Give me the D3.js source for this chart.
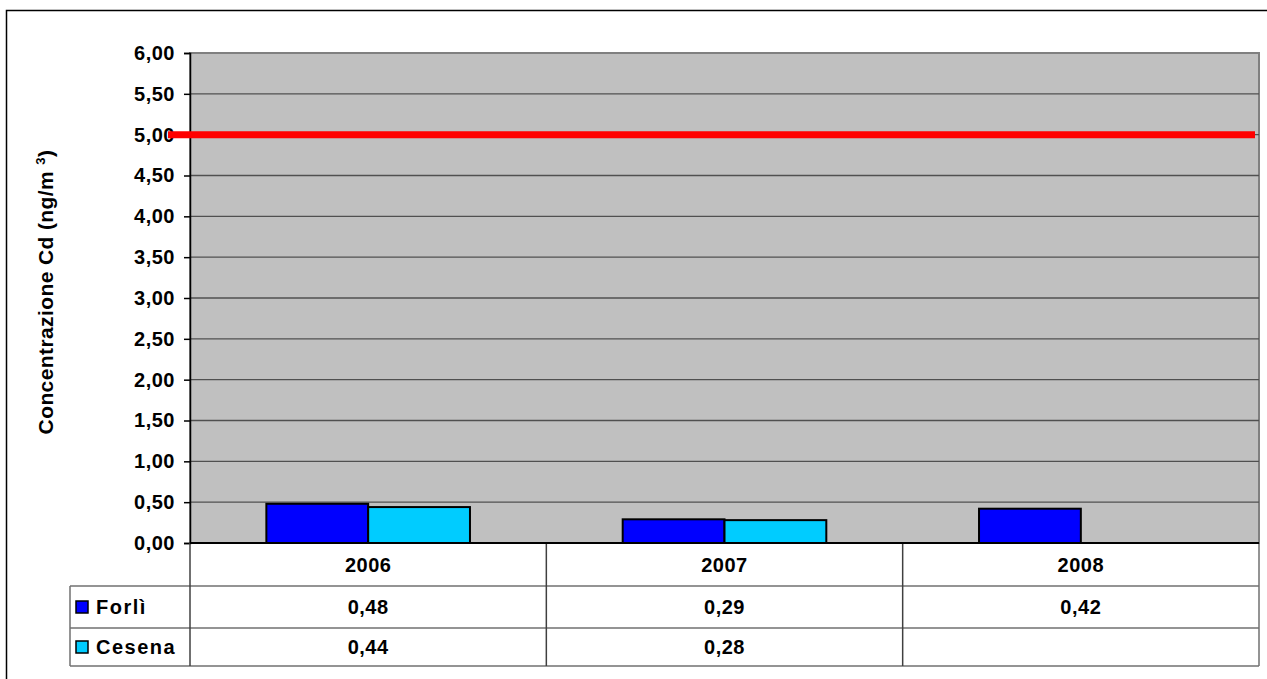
<!DOCTYPE html>
<html>
<head>
<meta charset="utf-8">
<script src="https://cdn.jsdelivr.net/npm/d3@7"></script>
<style>
  body { margin: 0; background: #fff; }
  text { font-family: "Liberation Sans", Arial, sans-serif; font-weight: bold; fill: #000; }
</style>
</head>
<body>
<script>
// chart data
var years = ["2006", "2007", "2008"];
var seriesNames = ["Forlì", "Cesena"];
var forli = [0.48, 0.29, 0.42];
var cesena = [0.44, 0.28, null];
var limitValue = 5.0;
var yTicks = [0, 0.5, 1, 1.5, 2, 2.5, 3, 3.5, 4, 4.5, 5, 5.5, 6];
var colors = ["#0000ff", "#00ccff"];

var width = 1267, height = 679;
var svg = d3.select("body").append("svg").attr("width", width).attr("height", height);

// outer frame
svg.append("rect").attr("x", 6.5).attr("y", 10.5).attr("width", 1300).attr("height", 700)
  .attr("fill", "none").attr("stroke", "#000").attr("stroke-width", 1.5);

var plotLeft = 190, plotRight = 1259, plotTop = 53, plotBottom = 543;
var fontSize = "20px";

var x = d3.scaleBand().domain(years).range([plotLeft, plotRight]);
// excel gap width 150%: two bars fill 2/3.5 of each band, centered
var bw = x.bandwidth();
var x1 = d3.scaleBand().domain(seriesNames).range([bw * 0.75 / 3.5, bw * (1 - 0.75 / 3.5)]);

var y = d3.scaleLinear().domain([0, 6]).range([plotBottom, plotTop]);

// plot area
svg.append("rect").attr("x", plotLeft).attr("y", plotTop).attr("width", plotRight - plotLeft).attr("height", plotBottom - plotTop)
  .attr("fill", "#c0c0c0").attr("stroke", "#808080").attr("stroke-width", 2);

// gridlines
svg.append("g").selectAll("line").data(yTicks.filter(function(d) { return d > 0 && d < 6; }))
  .enter().append("line")
  .attr("x1", plotLeft).attr("x2", plotRight)
  .attr("y1", function(d) { return y(d); }).attr("y2", function(d) { return y(d); })
  .attr("stroke", "#505050").attr("stroke-width", 1.3);

// y axis
var yAxis = d3.axisLeft(y).tickValues(yTicks).tickSize(6).tickPadding(9)
  .tickFormat(function(d) { return d3.format(".2f")(d).replace(".", ","); });
var gy = svg.append("g").attr("transform", "translate(" + plotLeft + ",0)").call(yAxis);
gy.select(".domain").attr("stroke", "#000").attr("stroke-width", 1.5);
gy.selectAll(".tick line").attr("stroke", "#000").attr("stroke-width", 1.5);
gy.selectAll(".tick text").attr("font-size", fontSize).attr("font-family", "Liberation Sans, Arial, sans-serif")
  .attr("font-weight", "bold").attr("fill", "#000").attr("letter-spacing", "0.5px");

// bars
var series = [forli, cesena];
series.forEach(function(vals, si) {
  svg.append("g").selectAll("rect").data(years.map(function(yr, i) { return { year: yr, v: vals[i] }; })
    .filter(function(d) { return d.v != null; }))
    .enter().append("rect")
    .attr("x", function(d) { return x(d.year) + x1(seriesNames[si]); })
    .attr("y", function(d) { return y(d.v); })
    .attr("width", x1.bandwidth())
    .attr("height", function(d) { return y(0) - y(d.v); })
    .attr("fill", colors[si]).attr("stroke", "#000").attr("stroke-width", 2);
});

// limit line
svg.append("line").attr("x1", 168).attr("x2", 1255)
  .attr("y1", y(limitValue)).attr("y2", y(limitValue))
  .attr("stroke", "#ff0000").attr("stroke-width", 7);

// data table
var rowY = [plotBottom, 586, 628, 666];
var legLeft = 70;
var tbl = svg.append("g");
// horizontal lines
[1, 2, 3].forEach(function(r) {
  tbl.append("line").attr("x1", legLeft).attr("x2", plotRight).attr("y1", rowY[r]).attr("y2", rowY[r])
    .attr("stroke", "#707070").attr("stroke-width", 1.5);
});
// vertical lines
tbl.append("line").attr("x1", legLeft).attr("x2", legLeft).attr("y1", rowY[1]).attr("y2", rowY[3]).attr("stroke", "#707070").attr("stroke-width", 1.5);
tbl.append("line").attr("x1", plotLeft).attr("x2", plotLeft).attr("y1", plotBottom).attr("y2", rowY[3]).attr("stroke", "#404040").attr("stroke-width", 1.5);
tbl.selectAll(".vsep").data(years.slice(1)).enter().append("line")
  .attr("x1", function(d) { return x(d); }).attr("x2", function(d) { return x(d); })
  .attr("y1", plotBottom).attr("y2", rowY[3]).attr("stroke", "#404040").attr("stroke-width", 1.5);
tbl.append("line").attr("x1", plotRight).attr("x2", plotRight).attr("y1", plotBottom).attr("y2", rowY[3]).attr("stroke", "#707070").attr("stroke-width", 1.5);

// x axis line
svg.append("line").attr("x1", plotLeft).attr("x2", plotRight).attr("y1", plotBottom).attr("y2", plotBottom)
  .attr("stroke", "#000").attr("stroke-width", 2);

// header: years
tbl.selectAll(".yr").data(years).enter().append("text")
  .attr("x", function(d) { return x(d) + x.bandwidth() / 2; })
  .attr("y", (rowY[0] + rowY[1]) / 2 + 7)
  .attr("text-anchor", "middle").attr("font-size", fontSize).attr("letter-spacing", "0.5px")
  .text(function(d) { return d; });

// value rows
series.forEach(function(vals, si) {
  var cy = (rowY[si + 1] + rowY[si + 2]) / 2;
  tbl.append("rect").attr("x", 76).attr("y", cy - 6).attr("width", 12).attr("height", 12)
    .attr("fill", colors[si]).attr("stroke", "#000").attr("stroke-width", 1.5);
  tbl.append("text").attr("x", 96).attr("y", cy + 7).attr("font-size", fontSize)
    .attr("letter-spacing", "1.5px").text(seriesNames[si]);
  tbl.selectAll(".v" + si).data(years.map(function(yr, i) { return { year: yr, v: vals[i] }; })
    .filter(function(d) { return d.v != null; }))
    .enter().append("text")
    .attr("x", function(d) { return x(d.year) + x.bandwidth() / 2; })
    .attr("y", cy + 7)
    .attr("text-anchor", "middle").attr("font-size", fontSize).attr("letter-spacing", "0.5px")
    .text(function(d) { return d3.format(".2f")(d.v).replace(".", ","); });
});

// y axis title
var yt = svg.append("text").attr("transform", "translate(53,292) rotate(-90)")
  .attr("text-anchor", "middle").attr("font-size", "21px").attr("letter-spacing", "0.4px");
yt.append("tspan").text("Concentrazione Cd (ng/m ");
yt.append("tspan").attr("font-size", "13px").attr("dy", -8).text("3");
yt.append("tspan").attr("dy", 8).text(")");
</script>
</body>
</html>
